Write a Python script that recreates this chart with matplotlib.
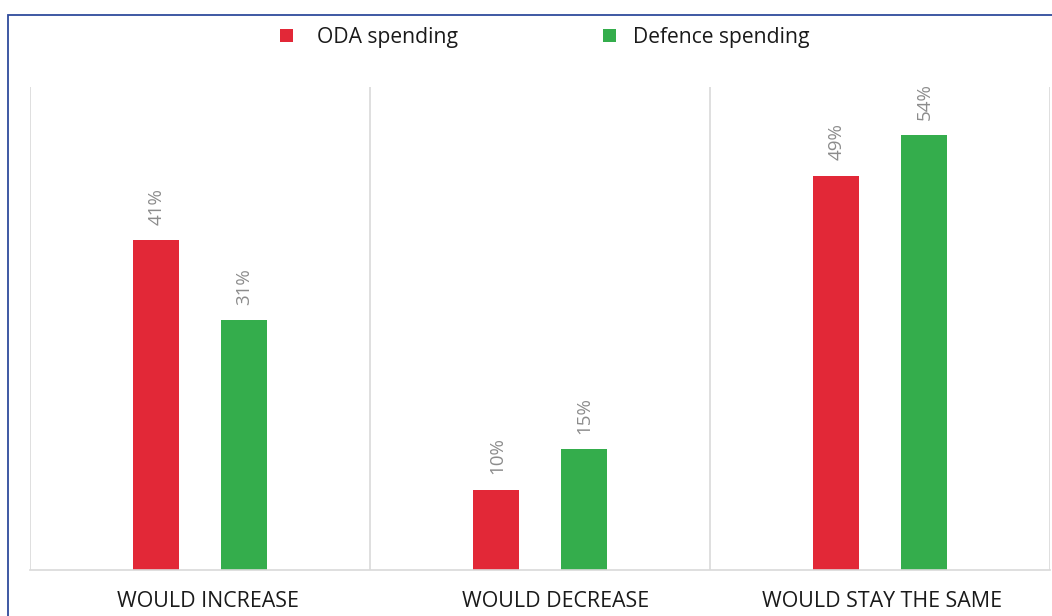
import matplotlib
matplotlib.use("Agg")
import matplotlib.pyplot as plt
from matplotlib.patches import Rectangle
import matplotlib.transforms as mtransforms
import numpy as np

categories = ["WOULD INCREASE", "WOULD DECREASE", "WOULD STAY THE SAME"]
series_names = ["ODA spending", "Defence spending"]
oda = [41, 10, 49]
defence = [31, 15, 54]
colors = ["#E22837", "#34AD4C"]

plt.rcParams['font.family'] = ['Open Sans', 'DejaVu Sans']

W, H = 1052, 616
fig = plt.figure(figsize=(W / 100, H / 100), dpi=100)
ax = fig.add_axes([30 / W, 46 / H, 1020 / W, 483 / H])

x = np.arange(len(categories))
width = 0.135
off = 0.129
b1 = ax.bar(x - off, oda, width, color=colors[0], label=series_names[0])
b2 = ax.bar(x + off, defence, width, color=colors[1], label=series_names[1])

for bars, vals in [(b1, oda), (b2, defence)]:
    for rect, v in zip(bars, vals):
        ax.annotate(f"{v}%", (rect.get_x() + rect.get_width() / 2, v),
                    xytext=(0.5, 11), textcoords="offset points",
                    rotation=90, ha="center", va="bottom",
                    color="#8c8c8c", fontsize=13.5)

ax.set_xlim(-0.5, len(categories) - 0.5)
ax.set_ylim(0, 60)
ax.set_yticks([])
ax.set_xticks(x)
ax.set_xticklabels(categories, fontsize=15.4, color="#1a1a1a")
ax.tick_params(axis='x', length=0, pad=15)
label_shift_px = [8, 16, 1.5]
for lab, dx in zip(ax.get_xticklabels(), label_shift_px):
    lab.set_transform(lab.get_transform() +
                      mtransforms.ScaledTranslation(dx / 100, 0, fig.dpi_scale_trans))
for b in np.arange(-0.5, len(categories), 1.0):
    ax.axvline(b, color="#d9d9d9", lw=1.2, zorder=0)
for s in ["top", "right", "left"]:
    ax.spines[s].set_visible(False)
ax.spines["bottom"].set_color("#d9d9d9")
ax.spines["bottom"].set_linewidth(1.2)

leg_specs = [(b1, series_names[0], 280, 1.14), (b2, series_names[1], 603, 0.8)]
for handle, name, xpx, pad in leg_specs:
    leg = fig.legend(handles=[handle], labels=[name], loc="center left",
                     bbox_to_anchor=(xpx / W, 1 - 37.5 / H), frameon=False,
                     fontsize=15.2, handlelength=0.62, handleheight=0.62,
                     handletextpad=pad, borderpad=0, borderaxespad=0)
    for t in leg.get_texts():
        t.set_color("#1a1a1a")

fig.add_artist(Rectangle((7.5 / W, -0.1), 1.2, 1 - 14.5 / H + 0.1,
                         transform=fig.transFigure, fill=False,
                         edgecolor="#2f4b9c", lw=1.3))

fig.savefig("out.png", dpi=100)
